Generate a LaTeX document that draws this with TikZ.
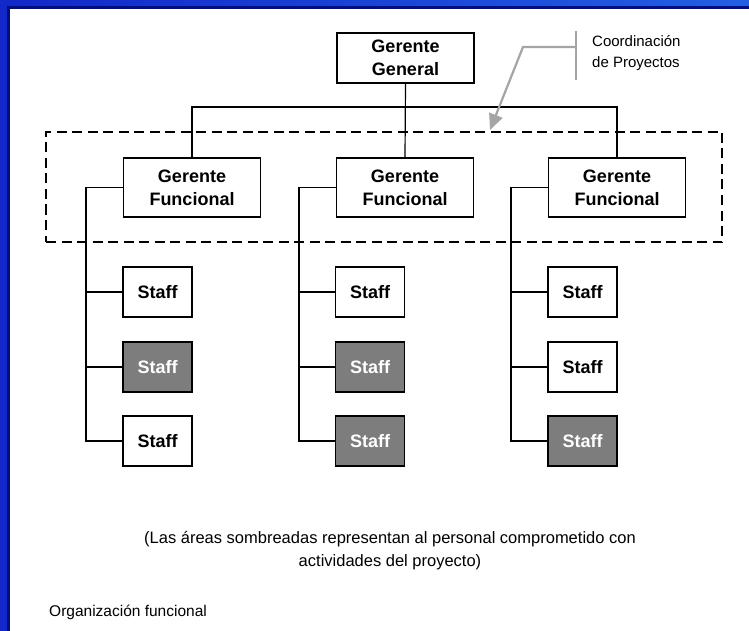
\documentclass[tikz,border=0pt]{standalone}
\usepackage{fontspec}
\setmainfont{Liberation Sans}
\usetikzlibrary{arrows.meta}
\definecolor{azulmarco}{RGB}{18,40,200}
\definecolor{azulclaro}{RGB}{35,95,228}
\definecolor{azuloscuro}{RGB}{0,14,128}
\definecolor{sombra}{RGB}{125,125,125}
\definecolor{flechagris}{RGB}{165,165,165}
\tikzset{
  caja/.style={draw, line width=1.2pt, fill=white, align=center,
    minimum width=137pt, minimum height=50pt, inner sep=0pt,
    font=\bfseries\fontsize{18}{23}\selectfont},
  jefe/.style={caja, minimum height=59pt},
  staff/.style={caja, minimum width=69pt, minimum height=50pt},
  sombreada/.style={staff, fill=sombra, text=white},
  linea/.style={line width=1.2pt},
  zona/.style={draw, line width=2.6pt, dash pattern=on 10pt off 5.5pt},
  gris/.style={draw=flechagris, line width=2.2pt}
}
\begin{document}
\begin{tikzpicture}[x=1pt, y=-1pt]
  \useasboundingbox (0,0) rectangle (749,631);
  \fill[white] (0,0) rectangle (749,631);
  % marco azul
  \shade[left color=azulmarco, right color=azulclaro] (0,0) rectangle (749,9);
  \fill[azuloscuro] (0,6.5) rectangle (749,9);
  \fill[azulmarco] (0,0) rectangle (8,631);
  \fill[azuloscuro] (7,6.5) rectangle (10,631);

  % zona de coordinacion
  \node[zona, minimum width=676pt, minimum height=110pt] (zona) at (384,187) {};

  \node[caja] (gg) at (405.5,58) {Gerente\\General};
  \node[jefe] (f1) at (192,187.5) {Gerente\\Funcional};
  \node[jefe] (f2) at (405,187.5) {Gerente\\Funcional};
  \node[jefe] (f3) at (617,187.5) {Gerente\\Funcional};

  \coordinate (bus) at (405,107);
  \draw[linea] (gg.south) -- (f2.north);
  \draw[linea] (f1.north) |- (bus) -| (f3.north);

  % staff, columna 1
  \node[staff]     (s11) at (157.5,292) {Staff};
  \node[sombreada] (s12) at (157.5,367) {Staff};
  \node[staff]     (s13) at (157.5,441) {Staff};
  % columna 2
  \node[staff]     (s21) at (370,292) {Staff};
  \node[sombreada] (s22) at (370,367) {Staff};
  \node[sombreada] (s23) at (370,441) {Staff};
  % columna 3
  \node[staff]     (s31) at (582.5,292) {Staff};
  \node[staff]     (s32) at (582.5,367) {Staff};
  \node[sombreada] (s33) at (582.5,441) {Staff};

  \coordinate (t1) at (86,187.5);
  \coordinate (t2) at (299,187.5);
  \coordinate (t3) at (511,187.5);
  \draw[linea] (f1.west) -- (t1) |- (s13.west);
  \draw[linea] (s11.west) -- (s11.west -| t1);
  \draw[linea] (s12.west) -- (s12.west -| t1);
  \draw[linea] (f2.west) -- (t2) |- (s23.west);
  \draw[linea] (s21.west) -- (s21.west -| t2);
  \draw[linea] (s22.west) -- (s22.west -| t2);
  \draw[linea] (f3.west) -- (t3) |- (s33.west);
  \draw[linea] (s31.west) -- (s31.west -| t3);
  \draw[linea] (s32.west) -- (s32.west -| t3);

  % nota de coordinacion
  \node[anchor=west, align=left, inner sep=0pt,
    font=\fontsize{15}{21}\selectfont] (coord) at (592,53) {Coordinación\\de Proyectos};
  \coordinate (codo) at (523,47);
  \coordinate (punta) at (490,130);
  \draw[gris] (576,31) -- (576,80);
  \draw[gris, -{Triangle[length=16pt, width=14pt]}] (576,47) -- (codo) -- (punta);

  \node[align=center, font=\fontsize{16.5}{23}\selectfont] (nota) at (390,551)
    {(Las áreas sombreadas representan al personal comprometido con\\actividades del proyecto)};
  \node[anchor=west, inner sep=0pt, font=\fontsize{15.5}{20}\selectfont] (titulo) at (49,612)
    {Organización funcional};
\end{tikzpicture}
\end{document}
